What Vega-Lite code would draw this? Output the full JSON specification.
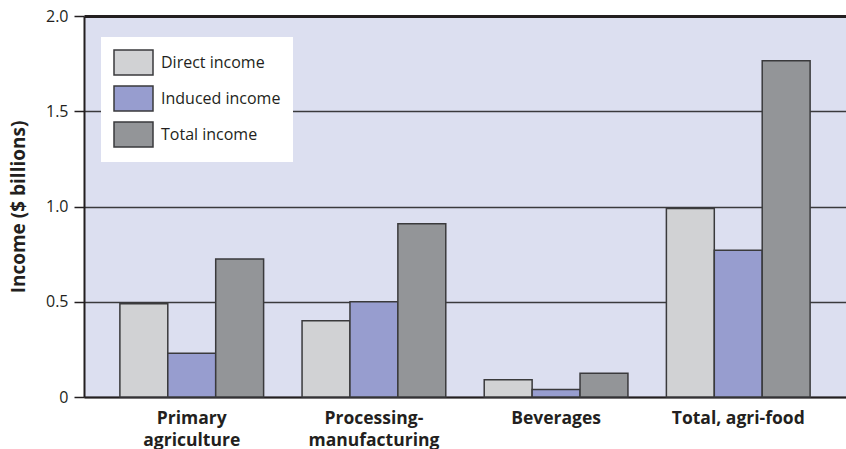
{
  "$schema": "https://vega.github.io/schema/vega-lite/v6.json",
  "autosize": "none",
  "width": 762,
  "height": 381,
  "padding": {"left": 84, "top": 16, "right": 0, "bottom": 52},
  "background": "white",
  "config": {
    "font": "Open Sans",
    "view": {"fill": "#dcdff0", "stroke": null}
  },
  "data": {
    "values": [
      {"sector": "Primary|agriculture", "type": "Direct income", "income": 0.49},
      {"sector": "Primary|agriculture", "type": "Induced income", "income": 0.23},
      {"sector": "Primary|agriculture", "type": "Total income", "income": 0.725},
      {"sector": "Processing-|manufacturing", "type": "Direct income", "income": 0.40},
      {"sector": "Processing-|manufacturing", "type": "Induced income", "income": 0.50},
      {"sector": "Processing-|manufacturing", "type": "Total income", "income": 0.91},
      {"sector": "Beverages", "type": "Direct income", "income": 0.09},
      {"sector": "Beverages", "type": "Induced income", "income": 0.04},
      {"sector": "Beverages", "type": "Total income", "income": 0.125},
      {"sector": "Total, agri-food", "type": "Direct income", "income": 0.99},
      {"sector": "Total, agri-food", "type": "Induced income", "income": 0.77},
      {"sector": "Total, agri-food", "type": "Total income", "income": 1.765}
    ]
  },
  "mark": {"type": "bar", "stroke": "#3a3a3c", "strokeWidth": 1.5, "opacity": 1},
  "encoding": {
    "x": {
      "field": "sector",
      "type": "nominal",
      "sort": null,
      "scale": {"paddingInner": 0.211, "paddingOuter": 0.197},
      "axis": {
        "title": null,
        "labelAngle": 0,
        "ticks": false,
        "domainColor": "#231f20",
        "domainWidth": 2,
        "labelExpr": "split(datum.label, '|')",
        "labelFontSize": 17.5,
        "labelFontWeight": "bold",
        "labelColor": "#231f20",
        "labelPadding": 12,
        "labelLineHeight": 22,
        "labelBaseline": "top"
      }
    },
    "xOffset": {"field": "type", "type": "nominal", "sort": null},
    "y": {
      "field": "income",
      "type": "quantitative",
      "scale": {"domain": [0, 2], "nice": false},
      "axis": {
        "title": "Income ($ billions)",
        "titleFontSize": 19,
        "titleFontWeight": "bold",
        "titleColor": "#231f20",
        "titlePadding": 17,
        "values": [0, 0.5, 1, 1.5, 2],
        "labelExpr": "datum.value == 0 ? '0' : format(datum.value, '.1f')",
        "labelFontSize": 16,
        "labelColor": "#231f20",
        "labelPadding": 6,
        "tickSize": 10,
        "tickColor": "#231f20",
        "tickWidth": 1.5,
        "domainColor": "#231f20",
        "domainWidth": 2,
        "grid": true,
        "gridColor": {"condition": {"test": "datum.value == 2", "value": "#231f20"}, "value": "#3a3a3c"},
        "gridWidth": {"condition": {"test": "datum.value == 2", "value": 3}, "value": 1.5},
        "gridOpacity": 1
      }
    },
    "fill": {
      "field": "type",
      "type": "nominal",
      "sort": null,
      "scale": {
        "domain": ["Direct income", "Induced income", "Total income"],
        "range": ["#d1d2d4", "#979dcf", "#939598"]
      },
      "legend": {
        "title": null,
        "orient": "none",
        "legendX": 17,
        "legendY": 21,
        "fillColor": "white",
        "padding": 12,
        "symbolType": "M-1,-1L2.12,-1L2.12,1L-1,1Z",
        "symbolSize": 625,
        "symbolStrokeColor": "#3a3a3c",
        "symbolStrokeWidth": 1.5,
        "symbolOpacity": 1,
        "labelOffset": 21,
        "labelFontSize": 16,
        "labelColor": "#231f20",
        "rowPadding": 5,
        "labelLimit": 300
      }
    }
  }
}
